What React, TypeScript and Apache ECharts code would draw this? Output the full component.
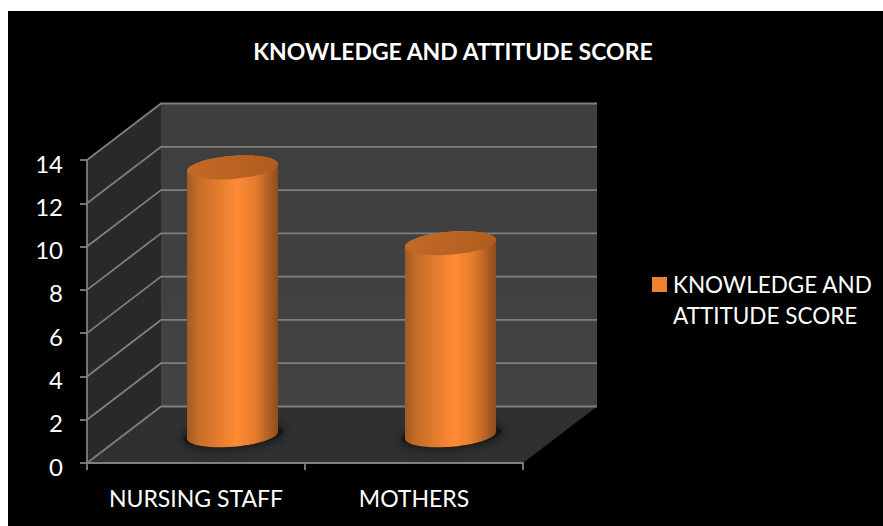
import React, { useEffect, useRef } from "react";
import * as echarts from "echarts";

const categories = ["NURSING STAFF", "MOTHERS"];
const seriesName = "KNOWLEDGE AND ATTITUDE SCORE";
const scores = [12.35, 8.85];
const yTicks = [0, 2, 4, 6, 8, 10, 12, 14];

const FONT = "Lato, 'Open Sans', sans-serif";
const DEPTH_X = 74;
const DEPTH_Y = 56.5;
const HALF_W = 45.5;
const ELL_RY = 11.5;
const TILT = (-4.6 * Math.PI) / 180;

function ellipsePts(cx: number, cy: number, rx: number, ry: number, from: number, to: number, n = 48) {
  const pts: number[][] = [];
  for (let i = 0; i <= n; i++) {
    const t = from + ((to - from) * i) / n;
    const px = rx * Math.cos(t);
    const py = ry * Math.sin(t);
    pts.push([cx + px * Math.cos(TILT) - py * Math.sin(TILT), cy + px * Math.sin(TILT) + py * Math.cos(TILT)]);
  }
  return pts;
}

function renderWalls(params: any, api: any) {
  const cs = params.coordSys;
  const tick = api.value(1);
  const y = api.coord([0, tick])[1];
  const x0 = cs.x;
  const x1 = cs.x + cs.width;
  const bx0 = x0 + DEPTH_X;
  const bx1 = x1 + DEPTH_X;
  const lineStyle = { stroke: "#7f7f7f", lineWidth: 1.8, fill: "none" };
  const children: any[] = [];
  if (tick === 0) {
    const top = api.coord([0, 14])[1];
    children.push(
      { type: "polygon", shape: { points: [[bx0, top - DEPTH_Y], [bx1, top - DEPTH_Y], [bx1, y - DEPTH_Y], [bx0, y - DEPTH_Y]] },
        style: { fill: new echarts.graphic.LinearGradient(0, 0, 0, 1, [{ offset: 0, color: "#3e3e3e" }, { offset: 1, color: "#434343" }]) } },
      { type: "polygon", shape: { points: [[x0, y], [bx0, y - DEPTH_Y], [bx0, top - DEPTH_Y], [x0, top]] }, style: { fill: "#292929" } },
      { type: "polygon", shape: { points: [[x0, y], [x1, y], [bx1, y - DEPTH_Y], [bx0, y - DEPTH_Y]] }, style: { fill: "#303030" } }
    );
  }
  children.push({
    type: "polyline",
    shape: { points: [[x0, y], [bx0, y - DEPTH_Y], [bx1, y - DEPTH_Y]] },
    style: lineStyle,
  });
  return { type: "group", children };
}

function renderCylinder(_params: any, api: any) {
  const [fx, topFront] = api.coord([api.value(0), api.value(1)]);
  const baseFront = api.coord([api.value(0), 0])[1];
  const cx = fx + DEPTH_X / 2 - 0.5;
  const topY = topFront - DEPTH_Y / 2;
  const baseY = baseFront - DEPTH_Y / 2 + 0.5;
  const lower = ellipsePts(cx, baseY, HALF_W / Math.cos(TILT), ELL_RY, 0, Math.PI);
  const topArc = ellipsePts(cx, topY, HALF_W / Math.cos(TILT), ELL_RY, Math.PI, 2 * Math.PI);
  const bodyFill = new echarts.graphic.LinearGradient(0, 0, 1, 0, [
    { offset: 0, color: "#a25b22" },
    { offset: 0.12, color: "#c36d28" },
    { offset: 0.35, color: "#e67c2e" },
    { offset: 0.55, color: "#ff8b35" },
    { offset: 0.75, color: "#e57b2d" },
    { offset: 1, color: "#8c4d1c" },
  ]);
  const topFill = new echarts.graphic.LinearGradient(0, 0, 1, 0, [
    { offset: 0, color: "#c26a25" },
    { offset: 0.5, color: "#ba6322" },
    { offset: 1, color: "#b05d1f" },
  ]);
  return {
    type: "group",
    children: [
      {
        type: "polygon",
        shape: { points: ellipsePts(cx + 1, baseY, 50, 11, 0, 2 * Math.PI) },
        style: { fill: "#161616", shadowBlur: 12, shadowColor: "rgba(0,0,0,0.8)" },
      },
      { type: "polygon", shape: { points: [...topArc, ...lower] }, style: { fill: bodyFill } },
      { type: "polygon", shape: { points: ellipsePts(cx, topY, HALF_W / Math.cos(TILT), ELL_RY, 0, 2 * Math.PI) }, style: { fill: topFill } },
    ],
  };
}

export default function App() {
  const ref = useRef<HTMLDivElement>(null);
  useEffect(() => {
    const chart = echarts.init(ref.current!, undefined, { renderer: "svg" });
    chart.setOption({
      animation: false,
      backgroundColor: "#000000",
      title: {
        text: seriesName,
        left: 440,
        top: 23,
        textAlign: "center",
        textStyle: { color: "#ffffff", fontFamily: FONT, fontSize: 23, fontWeight: "bold" },
      },
      legend: {
        data: [seriesName],
        left: 644,
        top: 227,
        orient: "vertical",
        icon: "rect",
        itemWidth: 15,
        itemHeight: 15,
        itemGap: 0,
        padding: 0,
        selectedMode: false,
        formatter: () => "\nKNOWLEDGE AND\nATTITUDE SCORE",
        textStyle: { color: "#ffffff", fontFamily: FONT, fontSize: 22.5, lineHeight: 31, padding: [0, 0, 0, 1] },
      },
      grid: { left: 79, top: 149, width: 436, height: 303, containLabel: false },
      xAxis: {
        type: "category",
        data: categories,
        z: 5,
        axisLine: { lineStyle: { color: "#7f7f7f", width: 1.8 } },
        axisTick: { show: true, length: 7, alignWithLabel: false, lineStyle: { color: "#7f7f7f", width: 1.8 } },
        axisLabel: { color: "#ffffff", fontFamily: FONT, fontSize: 23, margin: 23, interval: 0 },
        splitLine: { show: false },
      },
      yAxis: {
        type: "value",
        min: 0,
        max: 14,
        interval: 2,
        z: 5,
        axisLine: { show: true, lineStyle: { color: "#7f7f7f", width: 1.8 } },
        axisTick: { show: true, length: 7, lineStyle: { color: "#7f7f7f", width: 1.8 } },
        axisLabel: { color: "#ffffff", fontFamily: FONT, fontSize: 24, margin: 24, verticalAlign: "top", lineHeight: 6 },
        splitLine: { show: false },
      },
      series: [
        {
          name: "walls",
          type: "custom",
          z: 1,
          silent: true,
          clip: false,
          renderItem: renderWalls,
          encode: { x: 0, y: 1 },
          data: yTicks.map((t) => [0, t]),
        },
        {
          name: seriesName,
          type: "custom",
          z: 3,
          clip: false,
          itemStyle: { color: "#ef8133" },
          renderItem: renderCylinder,
          encode: { x: 0, y: 1 },
          data: scores.map((v, i) => [i, v]),
        },
      ],
    });
    return () => chart.dispose();
  }, []);
  return (
    <div
      ref={ref}
      style={{ position: "absolute", left: 8, top: 11, width: 875, height: 515 }}
    />
  );
}
